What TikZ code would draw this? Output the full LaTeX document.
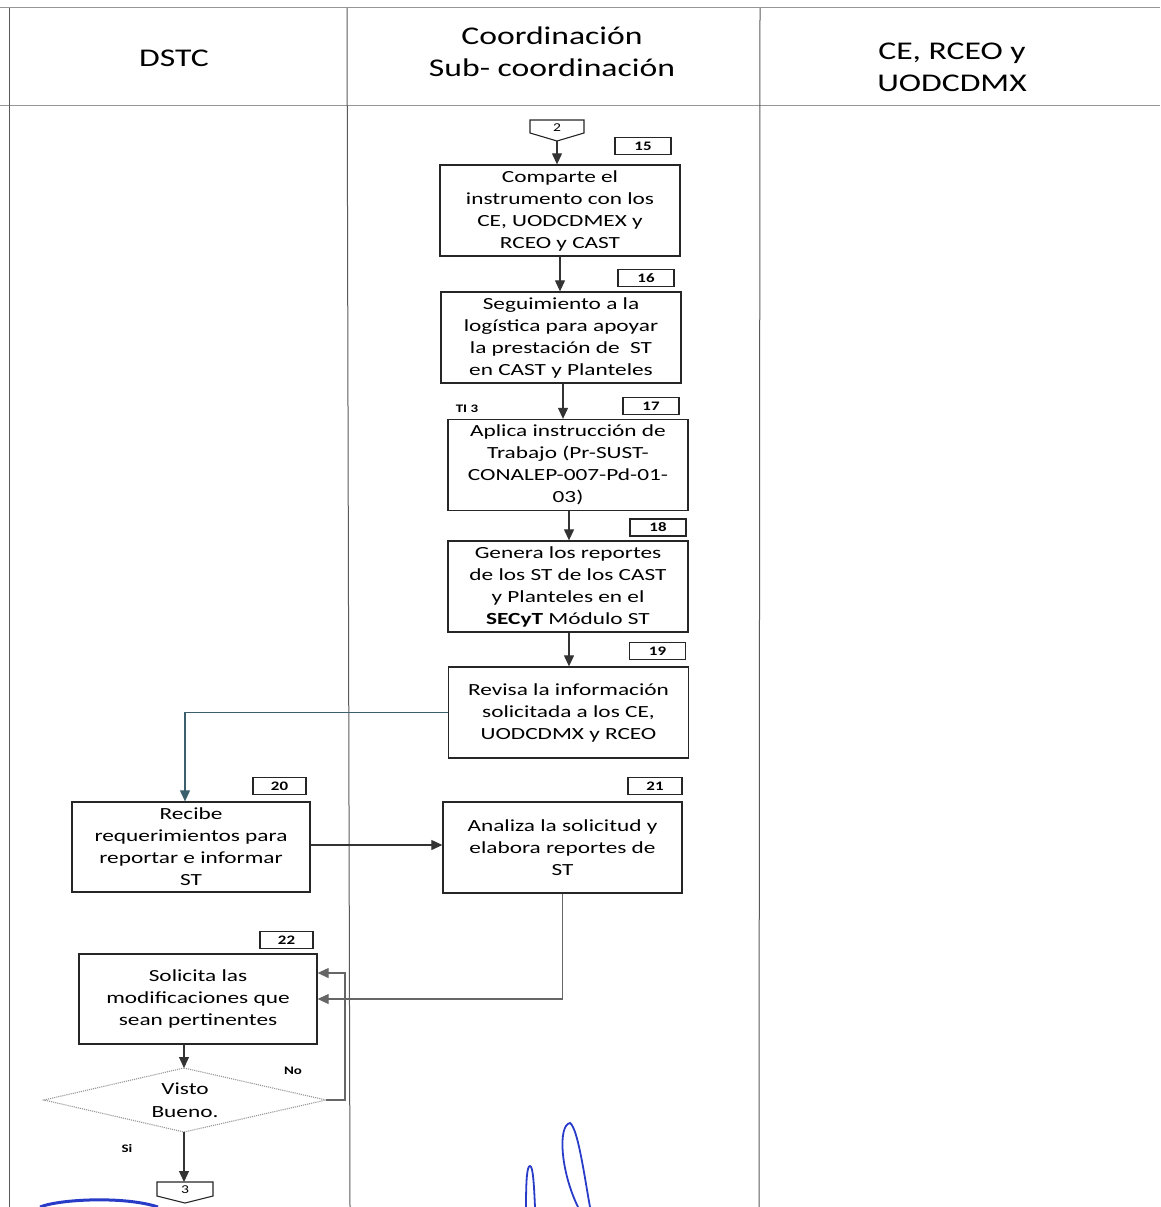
\documentclass[tikz,border=0pt]{standalone}
\usepackage{fontspec}
\usetikzlibrary{arrows.meta}
\setmainfont{Carlito}
\newfontfamily\hdrfont{Carlito}[FakeStretch=1.32]
\newfontfamily\boxfont{Carlito}[FakeStretch=1.37]
\newfontfamily\numfont{Carlito}[FakeStretch=1.3]
\definecolor{lanegray}{RGB}{90,90,90}
\definecolor{lightline}{RGB}{150,150,150}
\definecolor{tealline}{RGB}{60,95,110}
\definecolor{inkblue}{RGB}{40,60,200}
\tikzset{
  proc/.style={draw=black!85, line width=1.3pt, minimum width=240pt, minimum height=91pt,
    align=center, inner sep=0pt, font=\boxfont\fontsize{17}{22}\selectfont},
  numbox/.style={draw=black!85, line width=1.1pt, minimum width=56pt, minimum height=17pt,
    inner sep=0pt, font=\numfont\bfseries\fontsize{13}{15}\selectfont},
  hdr/.style={align=center, font=\hdrfont\fontsize{25.5}{32}\selectfont},
  lbl/.style={font=\numfont\bfseries\fontsize{11.5}{13}\selectfont, inner sep=0pt},
  offtxt/.style={font=\numfont\fontsize{12}{14}\selectfont, inner sep=0pt},
  arr/.style={draw=black!80, line width=1.1pt, -{Triangle[length=11pt,width=10pt]}},
  lane/.style={draw=lanegray, line width=1pt}
}
\begin{document}
\begin{tikzpicture}[x=1pt,y=-1pt]
\useasboundingbox (0,0) rectangle (1160,1207);
% lanes
\draw[lane, draw=lightline] (0,8) -- (1160,8);
\draw[lane, draw=lightline] (0,105) -- (1160,105);
\draw[lane] (9,8) -- (9,1207);
\draw[lane] (347,8) -- (350,1207);
\draw[lane] (760,8) -- (759,1207);
% headers
\node[hdr] (h1) at (174,58) {DSTC};
\node[hdr] (h2) at (552,52) {Coordinación\\Sub- coordinación};
\node[hdr] (h3) at (952,67) {CE, RCEO y\\UODCDMX};
% off-page connector 2
\draw[draw=black!85, line width=1.1pt, fill=white] (530,120) -- (584,120) -- (584,133) -- (557,141) -- (530,133) -- cycle;
\node[offtxt] (c2) at (557,128) {2};
\coordinate (c2tip) at (557,141);
% process boxes
\node[proc] (b15) at (560,210.5) {Comparte el\\instrumento con los\\CE, UODCDMEX y\\RCEO y CAST};
\node[numbox] (n15) at (643,146) {15};
\node[proc] (b16) at (561,337.5) {Seguimiento a la\\logística para apoyar\\la prestación de\ \ ST\\en CAST y Planteles};
\node[numbox] (n16) at (646,278) {16};
\node[proc] (b17) at (568,465) {Aplica instrucción de\\Trabajo (Pr-SUST-\\CONALEP-007-Pd-01-\\03)};
\node[numbox] (n17) at (651,406) {17};
\node[lbl] (ti3) at (467,409) {TI 3};
\node[proc] (b18) at (568,586.5) {Genera los reportes\\de los ST de los CAST\\y Planteles en el\\\textbf{SECyT} Módulo ST};
\node[numbox] (n18) at (658,527.5) {18};
\node[proc] (b19) at (568.5,712.5) {Revisa la información\\solicitada a los CE,\\UODCDMX y RCEO};
\node[numbox] (n19) at (657.5,651) {19};
\node[proc, minimum width=238pt, minimum height=90pt] (b20) at (191,847) {Recibe\\requerimientos para\\reportar e informar\\ST};
\node[numbox, minimum width=53pt] (n20) at (279.5,786) {20};
\node[proc, minimum width=239pt] (b21) at (562.5,847.5) {Analiza la solicitud y\\elabora reportes de\\ST};
\node[numbox, minimum width=54pt] (n21) at (655,786) {21};
\node[proc, minimum width=238pt, minimum height=90pt] (b22) at (198,999) {Solicita las\\modificaciones que\\sean pertinentes};
\node[numbox, minimum width=53pt] (n22) at (286.5,940) {22};
% decision (drawn as a path, text node in the centre)
\coordinate (dtop) at (184,1068);
\coordinate (dbot) at (184,1132);
\coordinate (dleft) at (44,1100);
\coordinate (dright) at (326,1100);
\draw[draw=lightline, densely dotted, line width=1.1pt] (dtop) -- (dright) -- (dbot) -- (dleft) -- cycle;
\node[align=center, inner sep=0pt, font=\boxfont\fontsize{17}{23}\selectfont] (dia) at (185,1100) {Visto\\Bueno.};
\node[lbl] (no) at (293,1071) {No};
\node[lbl] (si) at (127,1148) {Si};
% off-page connector 3
\draw[draw=black!85, line width=1.1pt, fill=white] (157,1182) -- (213,1182) -- (213,1196) -- (185,1203) -- (157,1196) -- cycle;
\node[offtxt] (c3) at (185,1190) {3};
\coordinate (c3top) at (184,1182);
% connectors
\draw[arr] (c2tip) -- (c2tip |- b15.north);
\draw[arr] (b15.south) -- (b15.south |- b16.north);
\draw[arr] ([xshift=2pt]b16.south) -- ([xshift=2pt]b16.south |- b17.north);
\draw[arr] ([xshift=1pt]b17.south) -- ([xshift=1pt]b17.south |- b18.north);
\draw[arr] ([xshift=1pt]b18.south) -- ([xshift=1pt]b18.south |- b19.north);
\draw[arr, draw=tealline] (b19.west) -| ([xshift=-6pt]b20.north);
\draw[arr] ([yshift=2pt]b20.east) -- ([yshift=2pt]b20.east -| b21.west);
\draw[arr, draw=black!60] (b21.south) |- (b22.east);
\draw[arr] (dtop |- b22.south) -- (dtop);
\draw[arr, draw=black!60] (dright) -- (345,1100) |- ([yshift=26pt]b22.east);
\draw[arr] (dbot) -- (c3top);
% scan marks
\draw[inkblue, line width=3pt] (40,1207) .. controls (60,1199) and (125,1196) .. (158,1207);
\draw[inkblue, line width=1.8pt] (526,1207) .. controls (526,1180) and (527,1166) .. (530,1166) .. controls (533,1166) and (534,1185) .. (535,1207);
\draw[inkblue, line width=1.8pt] (578,1207) .. controls (560,1170) and (558,1125) .. (570,1123) .. controls (578,1128) and (585,1180) .. (590,1207);
\end{tikzpicture}
\end{document}
